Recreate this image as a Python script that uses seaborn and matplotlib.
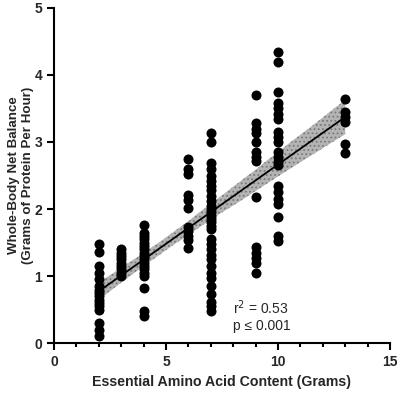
import numpy as np
import pandas as pd
import matplotlib
matplotlib.use("Agg")
import matplotlib.pyplot as plt
import seaborn as sns
from matplotlib.ticker import MultipleLocator

# values, one list per EAA dose (grams)
eaa_2 = [1.48, 1.36, 1.15, 1.05, 0.95, 0.85, 0.8, 0.75, 0.7, 0.65, 0.6, 0.55, 0.5, 0.3, 0.2, 0.1]
eaa_3 = [1.4, 1.35, 1.3, 1.25, 1.2, 1.15, 1.1, 1.05, 1.0]
eaa_4 = [1.76, 1.65, 1.6, 1.55, 1.5, 1.45, 1.4, 1.35, 1.3, 1.25, 1.2, 1.15, 1.1, 1.05, 1.0, 0.82, 0.48, 0.4]
eaa_6 = [2.74, 2.6, 2.53, 2.21, 2.13, 2.01, 1.73, 1.67, 1.6, 1.54, 1.42]
eaa_7 = [3.13, 3.0, 2.69, 2.6, 2.5, 2.42, 2.35, 2.28, 2.2, 2.12, 2.05, 2.0, 1.95, 1.9, 1.85, 1.8,
         1.75, 1.7, 1.55, 1.48, 1.4, 1.32, 1.25, 1.15, 1.05, 0.97, 0.85, 0.73, 0.62, 0.55, 0.48]
eaa_9 = [3.7, 3.28, 3.2, 3.13, 3.0, 2.85, 2.78, 2.72, 2.18, 1.43, 1.35, 1.27, 1.2, 1.05]
eaa_10 = [4.34, 4.2, 3.75, 3.58, 3.5, 3.42, 3.35, 3.15, 3.07, 3.0, 2.85, 2.78, 2.7, 2.65,
          2.35, 2.25, 2.15, 2.08, 1.88, 1.6, 1.53]
eaa_13 = [3.64, 3.45, 3.38, 3.3, 2.97, 2.83]

doses = {2: eaa_2, 3: eaa_3, 4: eaa_4, 6: eaa_6, 7: eaa_7, 9: eaa_9, 10: eaa_10, 13: eaa_13}
rows = [(k, v) for k, vals in doses.items() for v in vals]
df = pd.DataFrame(rows, columns=["eaa", "nb"])

sns.set_style("ticks")
plt.rcParams["font.family"] = ["Liberation Sans", "DejaVu Sans"]
plt.rcParams["hatch.linewidth"] = 0.8

fig = plt.figure(figsize=(4, 3.94), dpi=100)
ax = fig.add_axes([0.135, 0.129, 0.84, 0.851])

sns.regplot(x="eaa", y="nb", data=df, ax=ax, ci=95,
            scatter_kws={"color": "black", "s": 52, "alpha": 1, "linewidths": 0},
            line_kws={"color": "black", "lw": 1.3})

# stippled grey confidence band
for coll in ax.collections[1:]:
    coll.set_facecolor("#b4b4b4")
    coll.set_edgecolor("#7a7a7a")
    coll.set_hatch("....")
    coll.set_linewidth(0)
    coll.set_alpha(1)
    coll.set_zorder(1)
ax.collections[0].set_zorder(3)

ax.set_xlim(0, 15)
ax.set_ylim(0, 5)
ax.xaxis.set_major_locator(MultipleLocator(5))
ax.xaxis.set_minor_locator(MultipleLocator(1))
ax.yaxis.set_major_locator(MultipleLocator(1))
ax.tick_params(which="major", length=5, width=1.5, labelsize=10, color="black")
ax.tick_params(which="minor", length=3, width=1.5, color="black")
for lab in ax.get_xticklabels() + ax.get_yticklabels():
    lab.set_fontweight("bold")

for s in ["left", "bottom"]:
    ax.spines[s].set_linewidth(1.5)
    ax.spines[s].set_color("black")
sns.despine(ax=ax)

ax.set_xlabel("Essential Amino Acid Content (Grams)", fontsize=10.2, fontweight="bold")
ax.set_ylabel("Whole-Body Net Balance\n(Grams of Protein Per Hour)", fontsize=9.6, fontweight="bold")
ax.yaxis.set_label_coords(-0.06, 0.5)

ax.text(8.0, 0.2, "r$^2$ = 0.53\np \u2264 0.001", fontsize=10, linespacing=1.2)

fig.savefig("out.png", dpi=100)
